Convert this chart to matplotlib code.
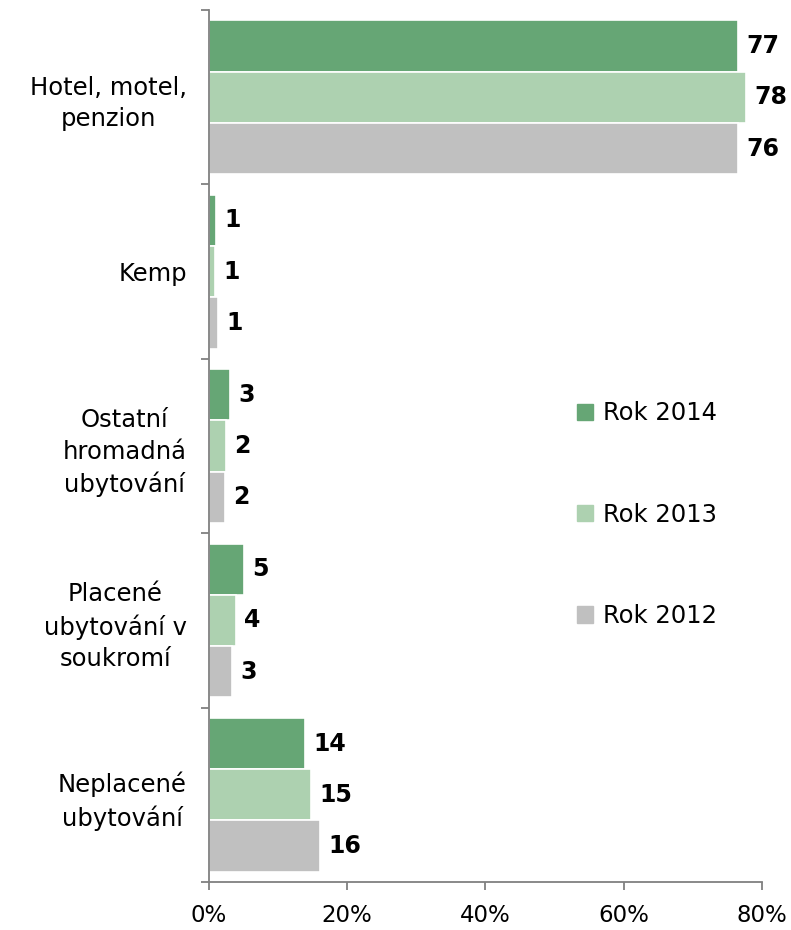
import numpy as np
import matplotlib.pyplot as plt
from matplotlib.patches import Patch

categories = ["Hotel, motel,\npenzion", "Kemp", "Ostatní\nhromadná\nubytování",
              "Placené\nubytování v\nsoukromí", "Neplacené\nubytování"]
series_names = ["Rok 2014", "Rok 2013", "Rok 2012"]
values_2014 = [76.5, 1.0, 3.0, 5.1, 13.9]
values_2013 = [77.7, 0.9, 2.5, 3.9, 14.8]
values_2012 = [76.5, 1.3, 2.3, 3.3, 16.1]
labels_2014 = ["77", "1", "3", "5", "14"]
labels_2013 = ["78", "1", "2", "4", "15"]
labels_2012 = ["76", "1", "2", "3", "16"]
xticks = [0, 20, 40, 60, 80]

colors = ["#66a675", "#add1b0", "#c0c0c0"]


def main():
    plt.rcParams['font.family'] = ['DejaVu Sans']
    fig = plt.figure(figsize=(7.91, 9.30), dpi=100)
    ax = fig.add_axes([0.2642, 0.0516, 0.6991, 0.9376])

    y = np.arange(len(categories))
    h = 0.294
    data = [values_2014, values_2013, values_2012]
    labs = [labels_2014, labels_2013, labels_2012]
    for i, (vals, lab) in enumerate(zip(data, labs)):
        bars = ax.barh(y + (i - 1) * h, vals, height=h, color=colors[i],
                       edgecolor='white', linewidth=1.2, label=series_names[i])
        ax.bar_label(bars, labels=lab, padding=6, fontsize=17,
                     fontweight='bold', color='black')

    ax.set_ylim(len(categories) - 0.5, -0.5)
    ax.set_xlim(0, 80)
    ax.set_xticks(xticks)
    ax.set_xticklabels([f"{t}%" for t in xticks])
    ax.set_yticks(y)
    ax.set_yticklabels(categories, ha='right', multialignment='center',
                       linespacing=1.4)
    ax.set_yticks(np.arange(len(categories) + 1) - 0.5, minor=True)

    spine_col = '#808080'
    for s in ['top', 'right']:
        ax.spines[s].set_visible(False)
    for s in ['left', 'bottom']:
        ax.spines[s].set_color(spine_col)
        ax.spines[s].set_linewidth(1.3)
    ax.tick_params(axis='y', which='major', length=0, pad=16, labelsize=17.5)
    ax.tick_params(axis='y', which='minor', length=6, width=1.3, color=spine_col)
    ax.tick_params(axis='x', length=6, width=1.3, color=spine_col, labelsize=16.5, pad=10)

    handles = [Patch(color=c) for c in colors]
    fig.legend(handles, series_names, loc='center left',
               bbox_to_anchor=(0.702, 0.4466), frameon=False, fontsize=17.5,
               handlelength=0.65, handleheight=0.65, handletextpad=0.4,
               labelspacing=3.18)

    fig.savefig('out.png', dpi=100)


if __name__ == '__main__':
    main()
